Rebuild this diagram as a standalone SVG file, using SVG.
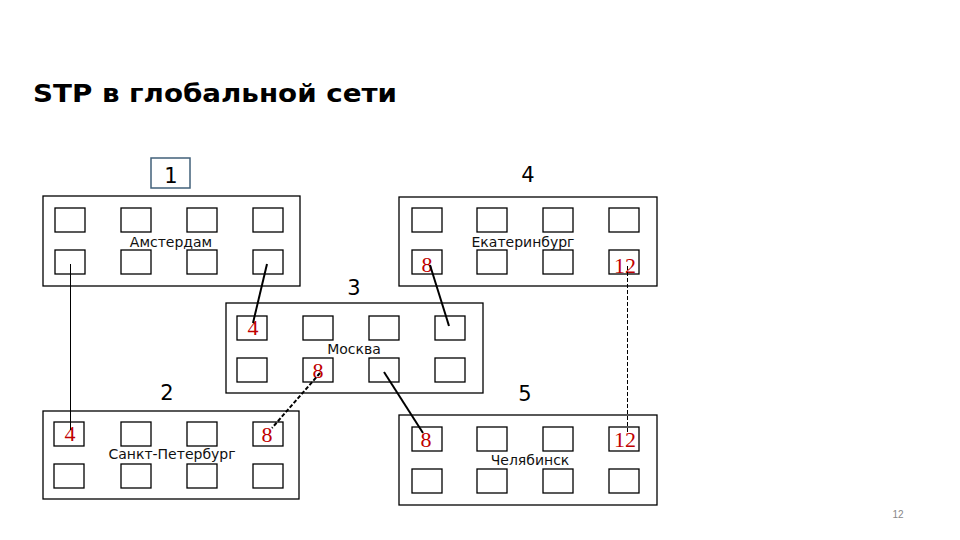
<svg xmlns="http://www.w3.org/2000/svg" width="960" height="540" viewBox="0 0 960 540">
<style>
.site{fill:#fff;stroke:#000;stroke-width:1.3}
.port{fill:#fff;stroke:#000;stroke-width:1.3}
.city{font-family:"DejaVu Sans","Noto Sans",sans-serif;font-size:14px;fill:#111;text-anchor:middle}
.num{font-family:"DejaVu Sans","Liberation Sans",sans-serif;font-size:21px;fill:#000;text-anchor:middle}
.cost{font-family:"Liberation Serif","DejaVu Serif",serif;font-size:22px;fill:#c00000;text-anchor:middle}
.ln{stroke:#000;fill:none}
</style>
<rect width="960" height="540" fill="#fff"/>
<text x="33" y="102" font-family="DejaVu Sans,Verdana,sans-serif" font-weight="bold" font-size="25" fill="#000" textLength="364" lengthAdjust="spacingAndGlyphs">STP в глобальной сети</text>

<g id="amsterdam">
<rect class="site" x="43" y="196" width="257" height="90"/>
<rect class="port" x="55" y="208" width="30" height="24"/>
<rect class="port" x="121" y="208" width="30" height="24"/>
<rect class="port" x="187" y="208" width="30" height="24"/>
<rect class="port" x="253" y="208" width="30" height="24"/>
<rect class="port" x="55" y="250" width="30" height="24"/>
<rect class="port" x="121" y="250" width="30" height="24"/>
<rect class="port" x="187" y="250" width="30" height="24"/>
<rect class="port" x="253" y="250" width="30" height="24"/>
<text class="city" x="171" y="247">Амстердам</text>
<rect x="151" y="158" width="39" height="30" fill="#fff" stroke="#41607a" stroke-width="1.5"/>
<text class="num" x="171" y="183">1</text>
</g>

<g id="ekaterinburg">
<rect class="site" x="399" y="197" width="258" height="89"/>
<rect class="port" x="412" y="208" width="30" height="24"/>
<rect class="port" x="477" y="208" width="30" height="24"/>
<rect class="port" x="543" y="208" width="30" height="24"/>
<rect class="port" x="609" y="208" width="30" height="24"/>
<rect class="port" x="412" y="250" width="30" height="24"/>
<rect class="port" x="477" y="250" width="30" height="24"/>
<rect class="port" x="543" y="250" width="30" height="24"/>
<rect class="port" x="609" y="250" width="30" height="24"/>
<text class="city" x="523" y="247">Екатеринбург</text>
<text class="num" x="528" y="182">4</text>
<text class="cost" x="427" y="272">8</text>
<text class="cost" x="625" y="273">12</text>
</g>

<g id="moscow">
<rect class="site" x="226" y="303" width="257" height="90"/>
<rect class="port" x="237" y="316" width="30" height="24"/>
<rect class="port" x="303" y="316" width="30" height="24"/>
<rect class="port" x="369" y="316" width="30" height="24"/>
<rect class="port" x="435" y="316" width="30" height="24"/>
<rect class="port" x="237" y="358" width="30" height="24"/>
<rect class="port" x="303" y="358" width="30" height="24"/>
<rect class="port" x="369" y="358" width="30" height="24"/>
<rect class="port" x="435" y="358" width="30" height="24"/>
<text class="city" x="354" y="354">Москва</text>
<text class="num" x="354" y="295">3</text>
<text class="cost" x="253" y="335">4</text>
<text class="cost" x="318" y="378">8</text>
</g>

<g id="spb">
<rect class="site" x="43" y="411" width="256" height="88"/>
<rect class="port" x="54" y="422" width="30" height="24"/>
<rect class="port" x="121" y="422" width="30" height="24"/>
<rect class="port" x="187" y="422" width="30" height="24"/>
<rect class="port" x="253" y="422" width="30" height="24"/>
<rect class="port" x="54" y="464" width="30" height="24"/>
<rect class="port" x="121" y="464" width="30" height="24"/>
<rect class="port" x="187" y="464" width="30" height="24"/>
<rect class="port" x="253" y="464" width="30" height="24"/>
<text class="city" x="172" y="459">Санкт-Петербург</text>
<text class="num" x="167" y="400">2</text>
<text class="cost" x="70" y="441">4</text>
<text class="cost" x="267" y="442">8</text>
</g>

<g id="chelyabinsk">
<rect class="site" x="399" y="415" width="258" height="90"/>
<rect class="port" x="412" y="427" width="30" height="24"/>
<rect class="port" x="477" y="427" width="30" height="24"/>
<rect class="port" x="543" y="427" width="30" height="24"/>
<rect class="port" x="609" y="427" width="30" height="24"/>
<rect class="port" x="412" y="469" width="30" height="24"/>
<rect class="port" x="477" y="469" width="30" height="24"/>
<rect class="port" x="543" y="469" width="30" height="24"/>
<rect class="port" x="609" y="469" width="30" height="24"/>
<text class="city" x="530" y="465">Челябинск</text>
<text class="num" x="525" y="401">5</text>
<text class="cost" x="426" y="447">8</text>
<text class="cost" x="625" y="447">12</text>
</g>

<g id="connectors">
<line class="ln" x1="70.5" y1="264" x2="70.5" y2="430" stroke-width="1"/>
<line class="ln" x1="267" y1="264" x2="253" y2="323" stroke-width="2"/>
<line class="ln" x1="430" y1="265" x2="449" y2="326" stroke-width="2"/>
<line class="ln" x1="320" y1="373" x2="272" y2="428" stroke-width="2" stroke-dasharray="4,2"/>
<line class="ln" x1="384" y1="372" x2="423" y2="433" stroke-width="2"/>
<line class="ln" x1="627.5" y1="266" x2="627.5" y2="433" stroke-width="1" stroke-dasharray="4,2"/>
</g>

<text x="898" y="518" font-family="Liberation Sans,Arial,sans-serif" font-size="10" fill="#888" text-anchor="middle">12</text>
</svg>
